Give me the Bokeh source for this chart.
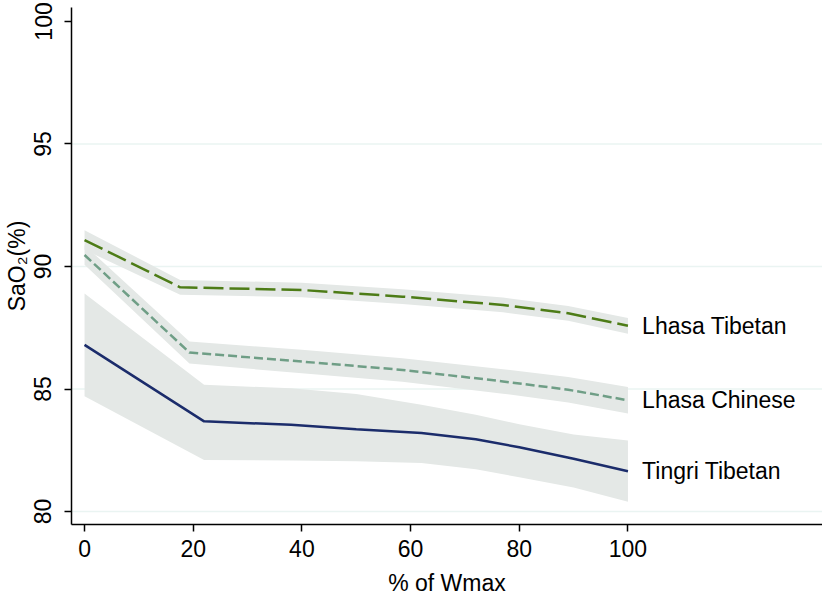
from bokeh.plotting import figure
from bokeh.models import Range1d, FixedTicker, ColumnDataSource
from bokeh.core.properties import value
from bokeh.embed import file_html
from bokeh.resources import INLINE

# ---- data ----
series_names = ["Lhasa Tibetan", "Lhasa Chinese", "Tingri Tibetan"]

lt_x = [0, 17.6, 40, 58.5, 77, 89, 100]
lt_y = [91.08, 89.15, 89.04, 88.77, 88.43, 88.09, 87.58]
lt_lo = [90.68, 88.85, 88.74, 88.47, 88.13, 87.79, 87.26]
lt_hi = [91.48, 89.45, 89.34, 89.07, 88.73, 88.39, 87.9]

lc_x = [0, 19.3, 40, 58.5, 77, 89, 100]
lc_y = [90.47, 86.49, 86.12, 85.78, 85.31, 84.97, 84.54]
lc_lo = [90.07, 86.04, 85.64, 85.3, 84.81, 84.45, 84.0]
lc_hi = [90.87, 86.94, 86.6, 86.26, 85.81, 85.49, 85.08]

tt_x = [0, 22, 38, 50, 62, 72, 80, 90, 100]
tt_y = [86.8, 83.68, 83.54, 83.36, 83.2, 82.95, 82.62, 82.15, 81.64]
tt_lo = [84.7, 82.1, 82.08, 82.05, 81.98, 81.72, 81.4, 80.98, 80.4]
tt_hi = [88.9, 85.17, 85.03, 84.8, 84.36, 83.95, 83.56, 83.14, 82.9]

x_ticks = [0, 20, 40, 60, 80, 100]
y_ticks = [80, 85, 90, 95, 100]
grid_levels = [80, 85, 90, 95]

FONT = "Liberation Sans"
BAND = "#e4e8e6"
X0, X1 = -2.4, 135.8
Y0, Y1 = 79.47, 100.57

p = figure(width=822, height=598, output_backend="svg", toolbar_location=None,
           x_range=Range1d(X0, X1), y_range=Range1d(Y0, Y1),
           min_border_left=70, min_border_right=0, min_border_top=7, min_border_bottom=73)
p.outline_line_color = None
p.background_fill_color = "white"
p.xgrid.visible = False
p.ygrid.visible = False

# faint horizontal grid lines
for g in grid_levels:
    p.line(x=[X0, X1], y=[g, g], line_color="#eaf4f2", line_width=1.5)

# confidence bands
p.varea(x=tt_x, y1=tt_lo, y2=tt_hi, fill_color=BAND)
p.varea(x=lc_x, y1=lc_lo, y2=lc_hi, fill_color=BAND)
p.varea(x=lt_x, y1=lt_lo, y2=lt_hi, fill_color=BAND)

# lines
p.line(x=tt_x, y=tt_y, line_color="#1b2c6b", line_width=2.5)
p.line(x=lc_x, y=lc_y, line_color="#6f9e86", line_width=2.5, line_dash="9 4")
p.line(x=lt_x, y=lt_y, line_color="#4d7c17", line_width=2.5, line_dash="20 6")

# end labels
lab_src = ColumnDataSource(dict(
    x=[lt_x[-1] + 2.6, lc_x[-1] + 2.6, tt_x[-1] + 2.6],
    y=[lt_y[-1], lc_y[-1], tt_y[-1]],
    t=series_names))
p.text(x="x", y="y", text="t", source=lab_src, text_font=value(FONT),
       text_font_size="23px", text_baseline="middle", text_align="left",
       text_color="black")

# axes
for ax in (p.xaxis[0], p.yaxis[0]):
    ax.axis_line_color = "black"
    ax.axis_line_width = 1.5
    ax.major_tick_line_color = "black"
    ax.major_tick_line_width = 1.5
    ax.major_tick_out = 7
    ax.major_tick_in = 0
    ax.minor_tick_line_color = None
    ax.major_label_text_font = FONT
    ax.major_label_text_font_size = "23px"
    ax.major_label_text_color = "black"
    ax.axis_label_text_font = FONT
    ax.axis_label_text_font_size = "23px"
    ax.axis_label_text_font_style = "normal"
    ax.axis_label_text_color = "black"

p.xaxis.ticker = FixedTicker(ticks=x_ticks)
p.yaxis.ticker = FixedTicker(ticks=y_ticks)
p.xaxis.axis_label = "% of Wmax"
p.yaxis.axis_label = "SaO\u2082(%)"
p.yaxis.major_label_orientation = "parallel"
p.xaxis.major_label_standoff = 8
p.yaxis.major_label_standoff = 13
p.xaxis.axis_label_standoff = 10
p.yaxis.axis_label_standoff = 2

open("out.html", "w").write(file_html(p, INLINE))
